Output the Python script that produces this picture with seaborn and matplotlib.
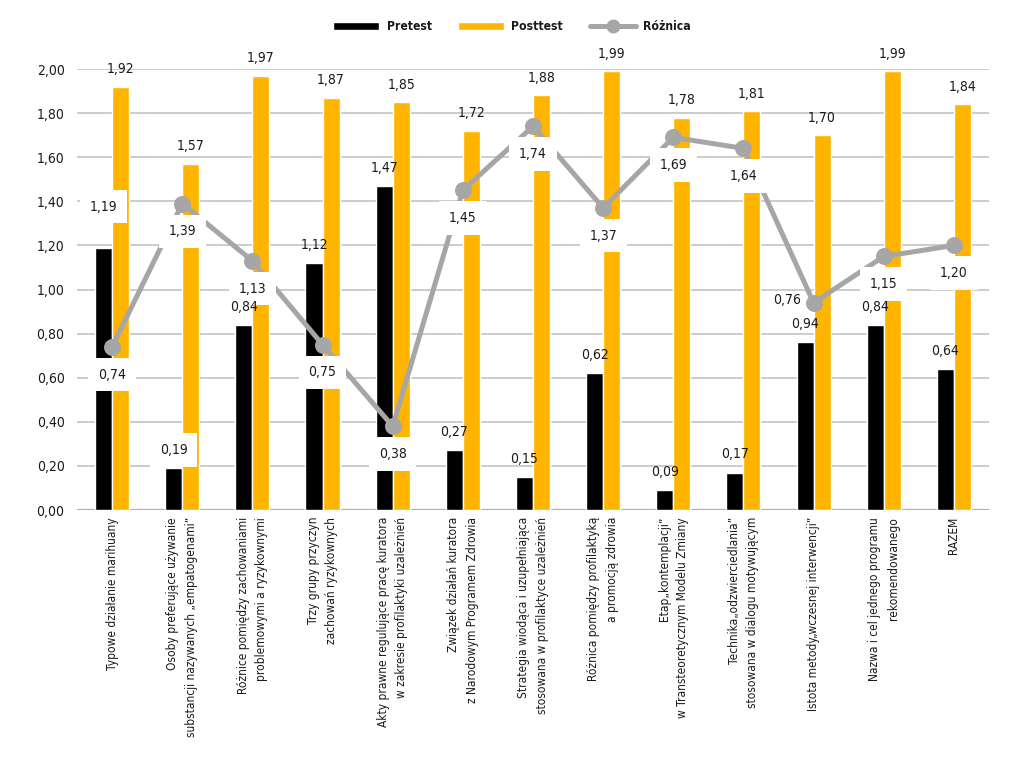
import matplotlib
matplotlib.use("Agg")
import matplotlib.pyplot as plt
from matplotlib.lines import Line2D
from matplotlib.patches import Patch
from matplotlib.ticker import FuncFormatter
import pandas as pd
import seaborn as sns

# Dane
kategorie = [
    "Typowe działanie marihuany",
    "Osoby preferujące używanie\nsubstancji nazywanych „empatogenami”",
    "Różnice pomiędzy zachowaniami\nproblemowymi a ryzykownymi",
    "Trzy grupy przyczyn\nzachowań ryzykownych",
    "Akty prawne regulujące pracę kuratora\nw zakresie profilaktyki uzależnień",
    "Związek działań kuratora\nz Narodowym Programem Zdrowia",
    "Strategia wiodąca i uzupełniająca\nstosowana w profilaktyce uzależnień",
    "Różnica pomiędzy profilaktyką\na promocją zdrowia",
    "Etap„kontemplacji”\nw Transteoretycznym Modelu Zmiany",
    "Technika„odzwierciedlania”\nstosowana w dialogu motywującym",
    "Istota metody„wczesnej interwencji”",
    "Nazwa i cel jednego programu\nrekomendowanego",
    "RAZEM",
]
pretest = [1.19, 0.19, 0.84, 1.12, 1.47, 0.27, 0.15, 0.62, 0.09, 0.17, 0.76, 0.84, 0.64]
posttest = [1.92, 1.57, 1.97, 1.87, 1.85, 1.72, 1.88, 1.99, 1.78, 1.81, 1.70, 1.99, 1.84]
roznica = [0.74, 1.39, 1.13, 0.75, 0.38, 1.45, 1.74, 1.37, 1.69, 1.64, 0.94, 1.15, 1.20]
# etykiety tak jak w oryginale (w kategorii 11 zamienione)
pretest_etykiety = ["1,19", "0,19", "0,84", "1,12", "1,47", "0,27", "0,15", "0,62", "0,09", "0,17", "0,94", "0,84", "0,64"]
roznica_etykiety = ["0,74", "1,39", "1,13", "0,75", "0,38", "1,45", "1,74", "1,37", "1,69", "1,64", "0,76", "1,15", "1,20"]

CZARNY = "#000000"
POMARANCZ = "#FFB400"
SZARY = "#A6A6A6"
TEKST = "#1a1a1a"
FS = 10

sns.set_style("white")
plt.rcParams["font.family"] = ["DejaVu Sans"]
plt.rcParams["font.stretch"] = "condensed"

df = pd.DataFrame({
    "kategoria": kategorie * 2,
    "test": ["Pretest"] * len(kategorie) + ["Posttest"] * len(kategorie),
    "wynik": pretest + posttest,
})

fig = plt.figure(figsize=(10.24, 7.65), dpi=100)
ax = fig.add_axes([0.0752, 0.3333, 0.8906, 0.5765])

sns.barplot(data=df, x="kategoria", y="wynik", hue="test", order=kategorie,
            palette={"Pretest": CZARNY, "Posttest": POMARANCZ}, width=0.486,
            saturation=1, legend=False, ax=ax, zorder=2)
sns.pointplot(x=kategorie, y=roznica, order=kategorie, color=SZARY, markers="o",
              linewidth=3.6, markersize=9.5, errorbar=None, ax=ax, zorder=3)

ax.set_xlim(-0.5, len(kategorie) - 0.5)
ax.set_ylim(0, 2.0)
ax.set_yticks([i / 5 for i in range(11)])
ax.yaxis.set_major_formatter(FuncFormatter(lambda v, p: f"{v:.2f}".replace(".", ",")))
ax.yaxis.grid(True, color="#C8C8C8", linewidth=1.3)
ax.set_axisbelow(True)
for s in ax.spines.values():
    s.set_visible(False)
ax.axhline(0, color="#B0B0B0", linewidth=1.6, zorder=1)
ax.set_xlabel("")
ax.set_ylabel("")
ax.tick_params(axis="both", length=0, colors=TEKST)
ax.tick_params(axis="y", labelsize=FS, pad=9)
ax.tick_params(axis="x", labelsize=8.6, pad=5)
for lab in ax.get_xticklabels():
    lab.set_rotation(90)
    lab.set_ha("center")
    lab.set_va("top")
    lab.set_multialignment("right")
    lab.set_linespacing(1.55)

# etykiety danych
pre_bars, post_bars = ax.containers[0], ax.containers[1]
box = dict(boxstyle="square,pad=0.7", fc="white", ec="none")
pre_z_ramka = {0, 1}
pre_dy = [29.5] + [13] * 12
for i, b in enumerate(pre_bars):
    ax.annotate(pretest_etykiety[i], (b.get_x() + b.get_width() / 2, b.get_height()),
                xytext=(0, pre_dy[i]), textcoords="offset points", ha="center", va="center",
                fontsize=FS, color=TEKST, zorder=6, annotation_clip=False,
                bbox=box if i in pre_z_ramka else None)
for i, b in enumerate(post_bars):
    ax.annotate(f"{posttest[i]:.2f}".replace(".", ","),
                (b.get_x() + b.get_width() / 2, b.get_height()),
                xytext=(0, 12.5), textcoords="offset points", ha="center", va="center",
                fontsize=FS, color=TEKST, zorder=6, annotation_clip=False)
for i, v in enumerate(roznica):
    off = (-19, 2) if i == 10 else (0, -20)
    ax.annotate(roznica_etykiety[i], (i, v), xytext=off, textcoords="offset points",
                ha="center", va="center", fontsize=FS, color=TEKST, zorder=5,
                bbox=box if i != 10 else None)

handles = [
    Patch(facecolor=CZARNY, label="Pretest"),
    Patch(facecolor=POMARANCZ, label="Posttest"),
    Line2D([], [], color=SZARY, linewidth=3.6, marker="o", markersize=9, label="Różnica"),
]
leg = fig.legend(handles=handles, loc="center", bbox_to_anchor=(0.5, 0.965), ncol=3,
                 frameon=False, handlelength=3.8, handleheight=0.7, columnspacing=2.2,
                 handletextpad=0.6, prop={"size": 8.7, "weight": "bold"})
for t in leg.get_texts():
    t.set_color(TEKST)

fig.savefig("out.png", dpi=100)
